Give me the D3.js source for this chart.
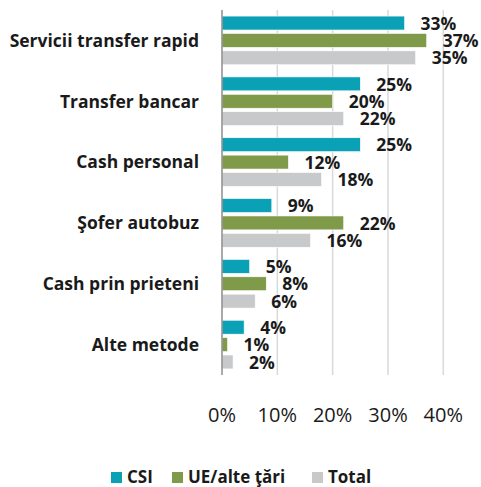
<!DOCTYPE html>
<html>
<head>
<meta charset="utf-8">
<script src="https://cdn.jsdelivr.net/npm/d3@7"></script>
<style>
  body { margin: 0; background: #fff; }
  svg { display: block; font-family: 'Open Sans', Lato, sans-serif; }
</style>
</head>
<body>
<svg></svg>
<script>
var categories = ['Servicii transfer rapid', 'Transfer bancar', 'Cash personal', 'Şofer autobuz', 'Cash prin prieteni', 'Alte metode'];
var seriesNames = ['CSI', 'UE/alte ţări', 'Total'];
var csiValues = [33, 25, 25, 9, 5, 4];
var ueValues = [37, 20, 12, 22, 8, 1];
var totalValues = [35, 22, 18, 16, 6, 2];
var tickValues = [0, 10, 20, 30, 40];
var colors = ['#0aa0b6', '#7f9a48', '#c8c9cb'];

var width = 481;
var height = 487;

var rows = categories.map((c, i) => ({
  category: c,
  values: [csiValues[i], ueValues[i], totalValues[i]]
}));

var svg = d3.select('svg')
  .attr('width', width)
  .attr('height', height);

var x = d3.scaleLinear()
  .domain([0, 40])
  .range([222, 443.3]);

var y0 = d3.scaleBand()
  .domain(categories)
  .range([10, 375])
  .paddingInner(0.2)
  .paddingOuter(0.1);

var y1 = d3.scaleBand()
  .domain(d3.range(seriesNames.length))
  .range([0, y0.bandwidth()])
  .paddingInner(0.2);

// gridlines
svg.append('g')
  .selectAll('line')
  .data(tickValues.slice(1))
  .enter()
  .append('line')
  .attr('x1', d => x(d))
  .attr('x2', d => x(d))
  .attr('y1', 10)
  .attr('y2', 375)
  .attr('stroke', '#d9d9d9')
  .attr('stroke-width', 1.5);

// tick labels
svg.append('g')
  .selectAll('text')
  .data(tickValues)
  .enter()
  .append('text')
  .attr('x', d => x(d))
  .attr('y', 422)
  .attr('text-anchor', 'middle')
  .attr('font-size', 20)
  .attr('fill', '#1a1a1a')
  .text(d => d + '%');

var groups = svg.append('g')
  .selectAll('g')
  .data(rows)
  .enter()
  .append('g')
  .attr('transform', d => 'translate(0,' + y0(d.category) + ')');

groups.selectAll('rect')
  .data(d => d.values)
  .enter()
  .append('rect')
  .attr('x', x(0))
  .attr('y', (d, i) => y1(i))
  .attr('width', d => x(d) - x(0))
  .attr('height', y1.bandwidth())
  .attr('fill', (d, i) => colors[i])
  .attr('stroke', '#fff')
  .attr('stroke-width', 0.6);

groups.selectAll('text.value')
  .data(d => d.values)
  .enter()
  .append('text')
  .classed('value', true)
  .attr('x', d => x(d) + 16)
  .attr('y', (d, i) => y1(i) + y1.bandwidth() / 2)
  .attr('dy', '0.38em')
  .attr('font-size', 17.5)
  .attr('font-weight', 'bold')
  .attr('fill', '#1a1a1a')
  .text(d => d + '%');

// category labels
svg.append('g')
  .selectAll('text')
  .data(categories)
  .enter()
  .append('text')
  .attr('x', 199)
  .attr('y', d => y0(d) + y0.bandwidth() / 2)
  .attr('dy', '0.36em')
  .attr('text-anchor', 'end')
  .attr('font-size', 17.5)
  .attr('font-weight', 'bold')
  .attr('fill', '#1a1a1a')
  .text(d => d);

// axis line
svg.append('line')
  .attr('x1', x(0))
  .attr('x2', x(0))
  .attr('y1', 10)
  .attr('y2', 375)
  .attr('stroke', '#8c8c8c')
  .attr('stroke-width', 1.5);

// legend
var legendX = [111, 172, 312];
var legend = svg.append('g')
  .selectAll('g')
  .data(seriesNames)
  .enter()
  .append('g')
  .attr('transform', (d, i) => 'translate(' + legendX[i] + ',472)');

legend.append('rect')
  .attr('width', 11)
  .attr('height', 11)
  .attr('fill', (d, i) => colors[i]);

legend.append('text')
  .attr('x', 16)
  .attr('y', 11)
  .attr('font-size', 17)
  .attr('font-weight', 'bold')
  .attr('fill', '#1a1a1a')
  .text(d => d);
</script>
</body>
</html>
